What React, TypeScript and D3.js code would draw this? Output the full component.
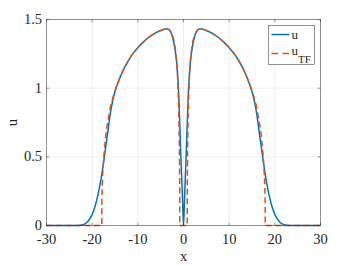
import React, { useEffect, useRef } from 'react';
import * as d3 from 'd3';

// numerical solution u(x)
const xU = [-30, -24, -22.5, -22, -21.5, -21, -20.5, -20, -19.5, -19, -18.5, -18, -17.5, -17, -16.5, -16, -15.5, -15, -14, -13, -12, -11, -10, -9, -8, -7, -6, -5, -4, -3.5, -3, -2.5, -2, -1.5, -1.2, -1, -0.8, -0.6, -0.4, -0.2, 0,
  0.2, 0.4, 0.6, 0.8, 1, 1.2, 1.5, 2, 2.5, 3, 3.5, 4, 5, 6, 7, 8, 9, 10, 11, 12, 13, 14, 15, 15.5, 16, 16.5, 17, 17.5, 18, 18.5, 19, 19.5, 20, 20.5, 21, 21.5, 22, 22.5, 24, 30];
const uVals = [0, 0, 0.002, 0.006, 0.014, 0.028, 0.05, 0.08, 0.125, 0.185, 0.26, 0.35, 0.46, 0.58, 0.7, 0.82, 0.91, 0.975, 1.07, 1.145, 1.205, 1.255, 1.295, 1.33, 1.36, 1.385, 1.405, 1.42, 1.43, 1.43, 1.42, 1.385, 1.31, 1.19, 1.05, 0.92, 0.72, 0.53, 0.35, 0.17, 0,
  0.17, 0.35, 0.53, 0.72, 0.92, 1.05, 1.19, 1.31, 1.385, 1.42, 1.43, 1.43, 1.42, 1.405, 1.385, 1.36, 1.33, 1.295, 1.255, 1.205, 1.145, 1.07, 0.975, 0.91, 0.82, 0.7, 0.58, 0.46, 0.35, 0.26, 0.185, 0.125, 0.08, 0.05, 0.028, 0.014, 0.006, 0.002, 0, 0];

// Thomas-Fermi approximation u_TF(x)
const xTF = [-30, -17.9, -17.88, -17.8, -17.6, -17.3, -17, -16.5, -16, -15.5, -15, -14, -13, -12, -11, -10, -9, -8, -7, -6, -5, -4, -3.5, -3, -2.5, -2, -1.6, -1.3, -1.1, -0.95, -0.87, -0.83, -0.81,
  0.81, 0.83, 0.87, 0.95, 1.1, 1.3, 1.6, 2, 2.5, 3, 3.5, 4, 5, 6, 7, 8, 9, 10, 11, 12, 13, 14, 15, 15.5, 16, 16.5, 17, 17.3, 17.6, 17.8, 17.88, 17.9, 30];
const uTFVals = [0, 0, 0.15, 0.28, 0.42, 0.56, 0.66, 0.77, 0.86, 0.925, 0.98, 1.07, 1.145, 1.205, 1.255, 1.295, 1.33, 1.36, 1.385, 1.405, 1.42, 1.43, 1.43, 1.42, 1.39, 1.33, 1.23, 1.08, 0.9, 0.68, 0.45, 0.25, 0,
  0, 0.25, 0.45, 0.68, 0.9, 1.08, 1.23, 1.33, 1.39, 1.42, 1.43, 1.43, 1.42, 1.405, 1.385, 1.36, 1.33, 1.295, 1.255, 1.205, 1.145, 1.07, 0.98, 0.925, 0.86, 0.77, 0.66, 0.56, 0.42, 0.28, 0.15, 0, 0];

const xTicks = [-30, -20, -10, 0, 10, 20, 30];
const yTicks = [0, 0.5, 1, 1.5];
const yTickLabels = ['0', '0.5', '1', '1.5'];

const W = 354;
const H = 266;

const App = () => {
  const svgRef = useRef<SVGSVGElement>(null);

  useEffect(() => {
    const svg = d3.select(svgRef.current);
    svg.selectAll('*').remove();

    const left = 46.5, right = 320.5, top = 19.5, bottom = 225.5;
    const x = d3.scaleLinear().domain([-30, 30]).range([left, right]);
    const y = d3.scaleLinear().domain([0, 1.5]).range([bottom, top]);
    const ink = '#262626';
    const font = "'Liberation Serif', 'Times New Roman', 'DejaVu Serif', serif";

    // grid
    const grid = svg.append('g').attr('stroke', ink).attr('stroke-opacity', 0.15).attr('stroke-width', 0.5);
    xTicks.slice(1, -1).forEach(t => {
      grid.append('line').attr('x1', x(t)).attr('x2', x(t)).attr('y1', top).attr('y2', bottom);
    });
    yTicks.slice(1, -1).forEach(t => {
      grid.append('line').attr('x1', left).attr('x2', right).attr('y1', y(t)).attr('y2', y(t));
    });

    // curves
    const line = d3.line<[number, number]>()
      .x(d => x(d[0]))
      .y(d => y(d[1]))
      .curve(d3.curveMonotoneX);

    svg.append('path')
      .datum(xU.map((v, i) => [v, uVals[i]] as [number, number]))
      .attr('d', line)
      .attr('fill', 'none')
      .attr('stroke', '#0072BD')
      .attr('stroke-width', 1.5);

    svg.append('path')
      .datum(xTF.map((v, i) => [v, uTFVals[i]] as [number, number]))
      .attr('d', line)
      .attr('fill', 'none')
      .attr('stroke', '#D95319')
      .attr('stroke-width', 1.5)
      .attr('stroke-dasharray', '6,3.5');

    // box and ticks
    const axes = svg.append('g').attr('stroke', ink).attr('stroke-width', 0.5).attr('fill', 'none');
    axes.append('rect').attr('x', left).attr('y', top).attr('width', right - left).attr('height', bottom - top);
    const tl = 2.7;
    xTicks.forEach(t => {
      axes.append('line').attr('x1', x(t)).attr('x2', x(t)).attr('y1', bottom).attr('y2', bottom - tl);
      axes.append('line').attr('x1', x(t)).attr('x2', x(t)).attr('y1', top).attr('y2', top + tl);
    });
    yTicks.forEach(t => {
      axes.append('line').attr('x1', left).attr('x2', left + tl).attr('y1', y(t)).attr('y2', y(t));
      axes.append('line').attr('x1', right).attr('x2', right - tl).attr('y1', y(t)).attr('y2', y(t));
    });

    // tick labels
    const labels = svg.append('g').attr('fill', ink).attr('font-family', font).attr('font-size', 14.5);
    xTicks.forEach(t => {
      labels.append('text').attr('x', x(t)).attr('y', bottom + 18).attr('text-anchor', 'middle').text(String(t));
    });
    yTicks.forEach((t, i) => {
      labels.append('text').attr('x', left - 4.5).attr('y', y(t) + 4.5).attr('text-anchor', 'end').text(yTickLabels[i]);
    });
    labels.append('text').attr('x', (left + right) / 2).attr('y', 261).attr('text-anchor', 'middle').text('x');
    labels.append('text')
      .attr('transform', `translate(17,${(top + bottom) / 2}) rotate(-90)`)
      .attr('text-anchor', 'middle')
      .text('u');

    // legend
    const lg = svg.append('g');
    lg.append('rect').attr('x', 268.5).attr('y', 25.5).attr('width', 46).attr('height', 39)
      .attr('fill', 'white').attr('stroke', ink).attr('stroke-width', 0.5);
    lg.append('line').attr('x1', 271.5).attr('x2', 289.5).attr('y1', 34.5).attr('y2', 34.5)
      .attr('stroke', '#0072BD').attr('stroke-width', 1.5);
    lg.append('line').attr('x1', 271.5).attr('x2', 289.5).attr('y1', 53.5).attr('y2', 53.5)
      .attr('stroke', '#D95319').attr('stroke-width', 1.5).attr('stroke-dasharray', '6.5,4.5');
    lg.append('text').attr('x', 291.5).attr('y', 38.5).attr('font-family', font).attr('font-size', 13).attr('fill', ink).text('u');
    const t2 = lg.append('text').attr('x', 291.5).attr('y', 55).attr('font-family', font).attr('font-size', 13).attr('fill', ink);
    t2.append('tspan').text('u');
    t2.append('tspan').attr('dy', 7.5).attr('font-size', 11).text('TF');
  }, []);

  return (
    <svg
      ref={svgRef}
      width={W}
      height={H}
      style={{ position: 'absolute', left: 0, top: 0, background: 'white' }}
      aria-label="u and u_TF versus x"
    />
  );
};

export default App;
